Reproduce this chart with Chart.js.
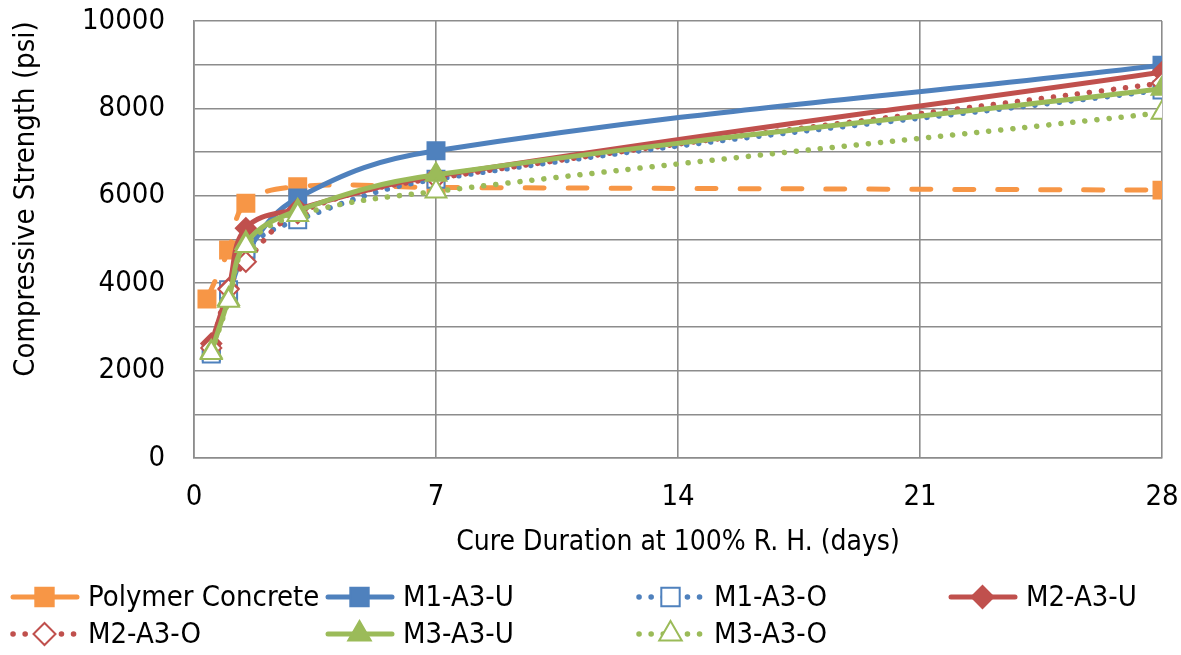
<!DOCTYPE html>
<html>
<head>
<meta charset="utf-8">
<script src="https://cdn.jsdelivr.net/npm/chart.js@4.4.1/dist/chart.umd.min.js"></script>
<style>
  body { margin: 0; background: #fff; }
</style>
</head>
<body>
<canvas id="chart" width="1181" height="655"></canvas>
<script>

// Data

const FONT = "'Liberation Sans Narrow', 'Arial Narrow', 'DejaVu Sans Condensed', sans-serif";

const cureDays = [0.5, 1, 1.5, 3, 7, 28];
const polymerDays = [0.375, 1, 1.5, 3, 7, 28];

const polymerConcrete = [3640, 4760, 5830, 6210, 6190, 6130];
const m1A3U = [2420, 3720, 4690, 5950, 7030, 8990];
const m1A3O = [2380, 3850, 4780, 5450, 6380, 8420];
const m2A3U = [2620, 3880, 5260, 5700, 6450, 8830];
const m2A3O = [2520, 3860, 4490, 5600, 6400, 8580];
const m3A3U = [2430, 3640, 4920, 5660, 6480, 8450];
const m3A3O = [2400, 3600, 4850, 5560, 6100, 7900];

const xTickLabels = [0, 7, 14, 21, 28];
const yTickLabels = [0, 2000, 4000, 6000, 8000, 10000];

const ORANGE = "#F79646";
const BLUE = "#4F81BD";
const RED = "#C0504D";
const GREEN = "#9BBB59";

const toPoints = (xs, ys) => xs.map((x, i) => ({ x: x, y: ys[i] }));

function series(label, xs, ys, color, opts) {
    return Object.assign({
        label: label,
        data: toPoints(xs, ys),
        borderColor: color,
        backgroundColor: color,
        pointBackgroundColor: color,
        pointBorderColor: color,
        borderWidth: 5,
        borderCapStyle: "round",
        borderJoinStyle: "round",
        pointBorderWidth: 2,
        pointRadius: 12,
        pointHoverRadius: 12,
        tension: 0.4,
        fill: false
    }, opts);
}

const DOTS = [0.1, 12];
const DASHES = [19, 24];

const datasets = [
    series("Polymer Concrete", polymerDays, polymerConcrete, ORANGE,
        { pointStyle: "rect", borderDash: DASHES, order: 7 }),
    series("M1-A3-U", cureDays, m1A3U, BLUE,
        { pointStyle: "rect", order: 6 }),
    series("M1-A3-O", cureDays, m1A3O, BLUE,
        { pointStyle: "rect", borderDash: DOTS, borderWidth: 5.5, pointBackgroundColor: "#fff", order: 5 }),
    series("M2-A3-U", cureDays, m2A3U, RED,
        { pointStyle: "rectRot", pointRadius: 10, order: 4 }),
    series("M2-A3-O", cureDays, m2A3O, RED,
        { pointStyle: "rectRot", pointRadius: 10, borderDash: DOTS, borderWidth: 5.5, pointBackgroundColor: "#fff", order: 3 }),
    series("M3-A3-U", cureDays, m3A3U, GREEN,
        { pointStyle: "triangle", order: 2 }),
    series("M3-A3-O", cureDays, m3A3O, GREEN,
        { pointStyle: "triangle", borderDash: DOTS, borderWidth: 5.5, pointBackgroundColor: "#fff", order: 1 })
];

// Legend + y title drawn on the canvas

const legendCols = [10, 325, 636, 948];
const legendRows = [597, 634];

const extras = {
    id: "extras",
    afterDraw(chart) {
        const ctx = chart.ctx;

        // y axis title
        ctx.save();
        ctx.translate(26, 199);
        ctx.rotate(-Math.PI / 2);
        ctx.font = "29px " + FONT;
        ctx.fillStyle = "#000";
        ctx.textAlign = "center";
        ctx.textBaseline = "middle";
        ctx.fillText("Compressive Strength (psi)", 0, 0);
        ctx.restore();

        // legend
        chart.data.datasets.forEach((ds, i) => {
            const x = legendCols[i % 4];
            const y = legendRows[Math.floor(i / 4)];
            const len = 67;

            ctx.save();
            ctx.strokeStyle = ds.borderColor;
            ctx.lineWidth = ds.borderWidth;
            ctx.lineCap = "round";
            ctx.setLineDash(ds.borderDash === DOTS ? DOTS : []);
            ctx.beginPath();
            ctx.moveTo(x + 3, y);
            ctx.lineTo(x + len, y);
            ctx.stroke();
            ctx.restore();

            ctx.save();
            ctx.fillStyle = ds.pointBackgroundColor;
            ctx.strokeStyle = ds.pointBorderColor;
            ctx.lineWidth = ds.pointBorderWidth;
            Chart.helpers.drawPoint(ctx, {
                pointStyle: ds.pointStyle,
                radius: ds.pointRadius + 1,
                borderWidth: ds.pointBorderWidth,
                rotation: 0
            }, x + len / 2 + 1, y);
            ctx.restore();

            ctx.save();
            ctx.font = "29px " + FONT;
            ctx.fillStyle = "#000";
            ctx.textBaseline = "middle";
            ctx.fillText(ds.label, x + len + 11, y + 1);
            ctx.restore();
        });
    }
};

new Chart(document.querySelector("#chart").getContext("2d"), {
    type: "line",
    data: { datasets: datasets },
    options: {
        responsive: false,
        animation: false,
        devicePixelRatio: 1,
        layout: { padding: { left: 0, right: 19, top: 21, bottom: 95 } },
        plugins: {
            legend: { display: false },
            tooltip: { enabled: false }
        },
        scales: {
            x: {
                type: "linear",
                min: 0,
                max: 28,
                afterBuildTicks: (axis) => { axis.ticks = xTickLabels.map(v => ({ value: v })); },
                afterFit: (axis) => {
                    axis.height = 102;
                    axis.paddingLeft = 0;
                    axis.paddingRight = 0;
                },
                grid: { color: "#8c8c8c", lineWidth: 1.6, drawTicks: false },
                border: { color: "#8c8c8c", width: 1.6 },
                ticks: {
                    color: "#000",
                    font: { family: FONT, size: 29 },
                    padding: 22,
                    maxRotation: 0
                },
                title: {
                    display: true,
                    text: "Cure Duration at 100% R. H. (days)",
                    color: "#000",
                    font: { family: FONT, size: 28 },
                    padding: { top: 0, bottom: 0 }
                }
            },
            y: {
                min: 0,
                max: 10000,
                afterFit: (axis) => {
                    axis.width = 194;
                    axis.paddingTop = 0;
                    axis.paddingBottom = 0;
                },
                grid: { color: "#8c8c8c", lineWidth: 1.6, drawTicks: false },
                border: { color: "#8c8c8c", width: 1.6 },
                ticks: {
                    stepSize: 1000,
                    color: "#000",
                    font: { family: FONT, size: 29 },
                    padding: 29,
                    callback: (v) => yTickLabels.includes(v) ? String(v) : ""
                }
            }
        }
    },
    plugins: [extras]
});

</script>
</body>
</html>
